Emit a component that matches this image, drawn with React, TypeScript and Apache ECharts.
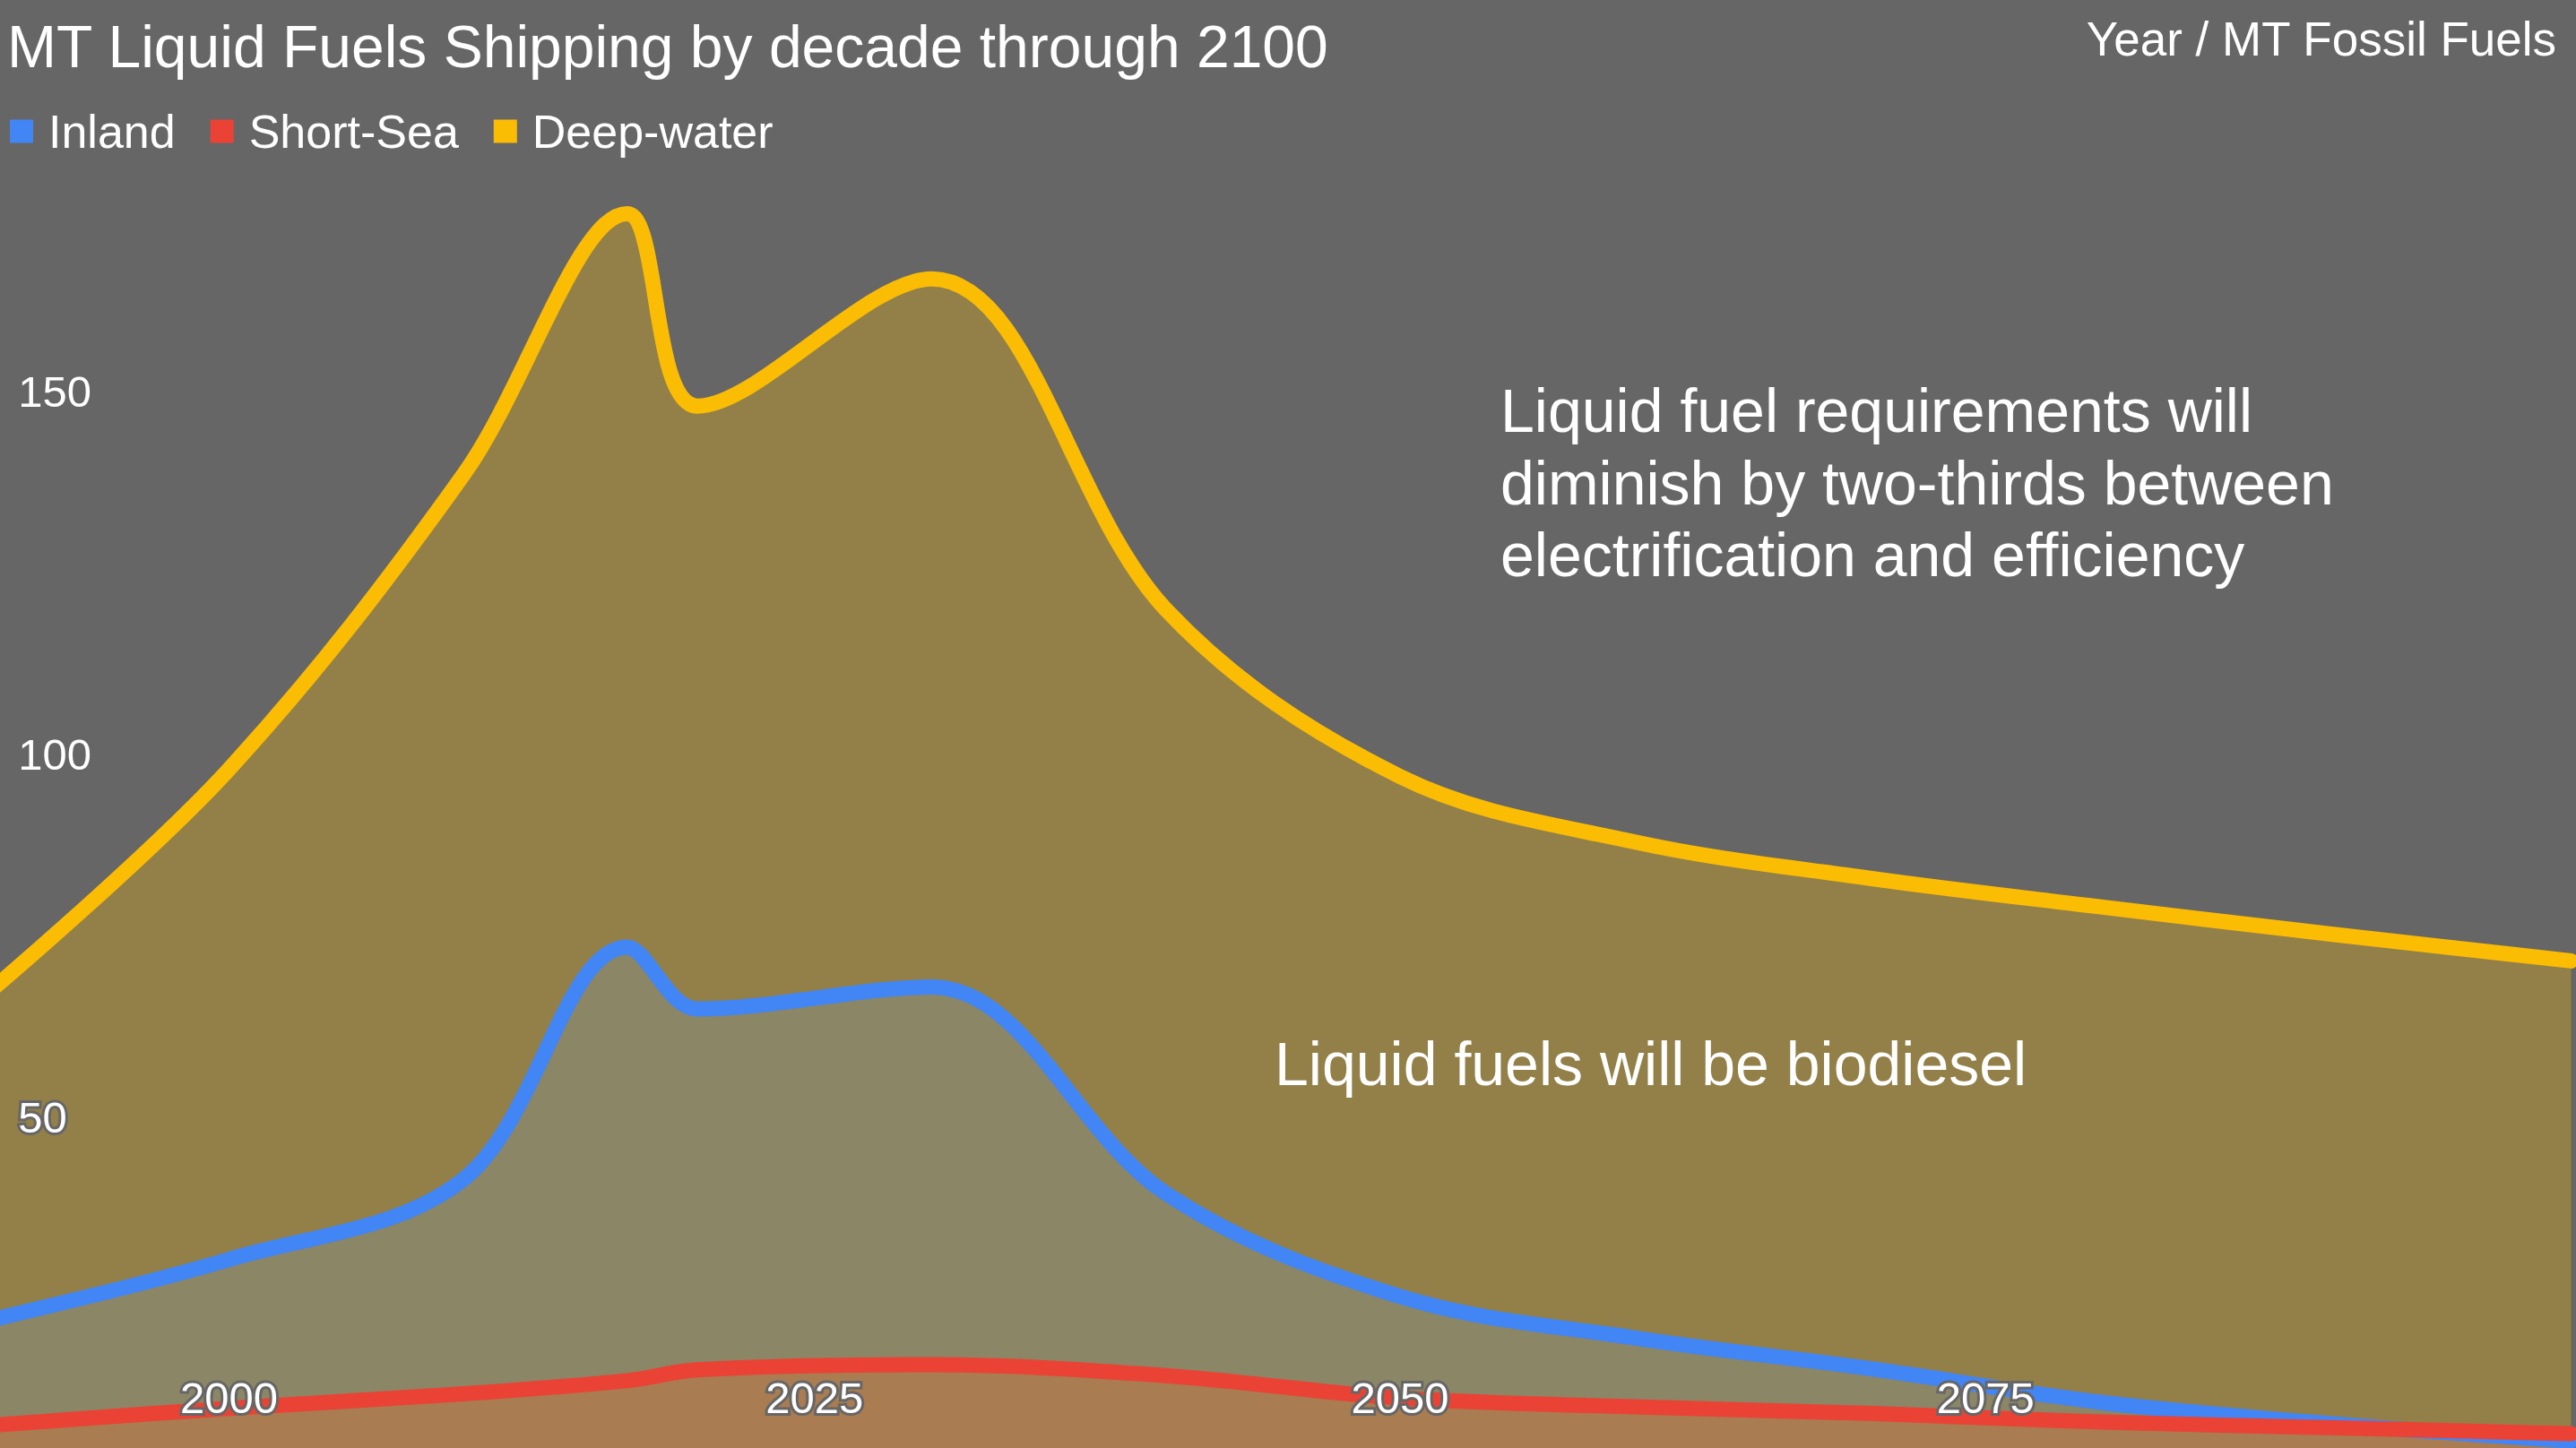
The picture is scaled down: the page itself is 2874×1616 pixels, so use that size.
import React, { useEffect, useRef } from "react";
import * as echarts from "echarts";

const years = [1990, 2000, 2010, 2017, 2020, 2030, 2040, 2050, 2060, 2070, 2080, 2090, 2100];
const inland = [22.3, 30.5, 41.5, 73.5, 65, 68, 39.6, 25.4, 19.7, 15.5, 10.8, 7.8, 5.5];
const shortSea = [7.7, 10, 12, 13.8, 15.3, 16, 14.5, 11.4, 10.2, 9.3, 8.1, 7.3, 6.5];
const deepWater = [68, 98, 138.5, 174.5, 148, 165.5, 120, 97, 88, 83, 79, 75.2, 71.6];
const seriesNames = ["Inland", "Short-Sea", "Deep-water"];
const colors = ["#4285f4", "#ea4335", "#fbbc04"];
const xTickLabels = [2000, 2025, 2050, 2075];
const yTickLabels = [50, 100, 150];

const titleText = "MT Liquid Fuels Shipping by decade through 2100";
const subtitleText = "Year / MT Fossil Fuels";
const note1 = "Liquid fuel requirements will\ndiminish by two-thirds between\nelectrification and efficiency";
const note2 = "Liquid fuels will be biodiesel";

const FONT = "'Liberation Sans', Arial, sans-serif";
const BG = "#666666";
const SMOOTH = 0.35;

export default function App() {
  const ref = useRef<HTMLDivElement>(null);
  useEffect(() => {
    const chart = echarts.init(ref.current!, null, { renderer: "svg" });
    const values = [inland, shortSea, deepWater];
    const pairs = values.map((v) => years.map((y, i) => [y, v[i]]));
    const areaSeries = pairs.map((d, i) => ({
      type: "line",
      name: seriesNames[i],
      data: d,
      smooth: SMOOTH,
      symbol: "none",
      showSymbol: false,
      itemStyle: { color: colors[i] },
      lineStyle: { width: 0, color: colors[i] },
      areaStyle: { color: colors[i], opacity: 0.3 },
      z: 2,
      silent: true,
    }));
    const lineSeries = pairs.map((d, i) => ({
      type: "line",
      name: seriesNames[i],
      data: d,
      smooth: SMOOTH,
      symbol: "none",
      showSymbol: false,
      itemStyle: { color: colors[i] },
      lineStyle: { width: 17, color: colors[i], cap: "round", join: "round" },
      z: 3,
    }));
    const labelStyle = {
      color: "#ffffff",
      fontSize: 49,
      fontFamily: FONT,
      textBorderColor: BG,
      textBorderWidth: 6,
    };
    chart.setOption({
      animation: false,
      backgroundColor: BG,
      title: [
        {
          text: titleText,
          left: 8,
          top: 18.5,
          padding: 0,
          textStyle: { color: "#ffffff", fontSize: 66, fontWeight: "normal", fontFamily: FONT },
        },
        {
          text: subtitleText,
          right: 21,
          top: 16.5,
          padding: 0,
          textStyle: { color: "#ffffff", fontSize: 53, fontWeight: "normal", fontFamily: FONT },
        },
      ],
      legend: {
        data: seriesNames,
        left: 11,
        top: 120.5,
        padding: 0,
        icon: "rect",
        itemWidth: 26,
        itemHeight: 26,
        itemGap: 39,
        textStyle: { color: "#ffffff", fontSize: 52, fontFamily: FONT, padding: [0, 0, 0, 12] },
      },
      grid: {
        left: -5.8,
        right: 5.5,
        top: 31.7,
        bottom: -36.75,
        containLabel: false,
        outerBoundsMode: "none",
      },
      xAxis: {
        type: "value",
        min: 1990,
        max: 2100,
        interval: 5,
        z: 10,
        axisLine: { show: false },
        axisTick: { show: false },
        splitLine: { show: false },
        axisLabel: {
          ...labelStyle,
          inside: true,
          margin: 68,
          formatter: (v: number) => (xTickLabels.includes(v) ? String(v) : ""),
        },
      },
      yAxis: {
        type: "value",
        min: 0,
        max: 200,
        interval: 50,
        z: 10,
        axisLine: { show: false },
        axisTick: { show: false },
        splitLine: { show: false },
        axisLabel: {
          ...labelStyle,
          inside: true,
          margin: 26,
          formatter: (v: number) => (yTickLabels.includes(v) ? String(v) : ""),
        },
      },
      graphic: [
        {
          type: "text",
          left: 1674,
          top: 418,
          z: 100,
          style: { text: note1, fill: "#ffffff", fontSize: 68, fontFamily: FONT, lineHeight: 80.5 },
        },
        {
          type: "text",
          left: 1422,
          top: 1152.5,
          z: 100,
          style: { text: note2, fill: "#ffffff", fontSize: 68, fontFamily: FONT },
        },
      ],
      series: [...areaSeries, ...lineSeries],
    });
    return () => chart.dispose();
  }, []);
  return (
    <div
      ref={ref}
      style={{ position: "fixed", left: 0, top: 0, width: 2874, height: 1616 }}
    />
  );
}
